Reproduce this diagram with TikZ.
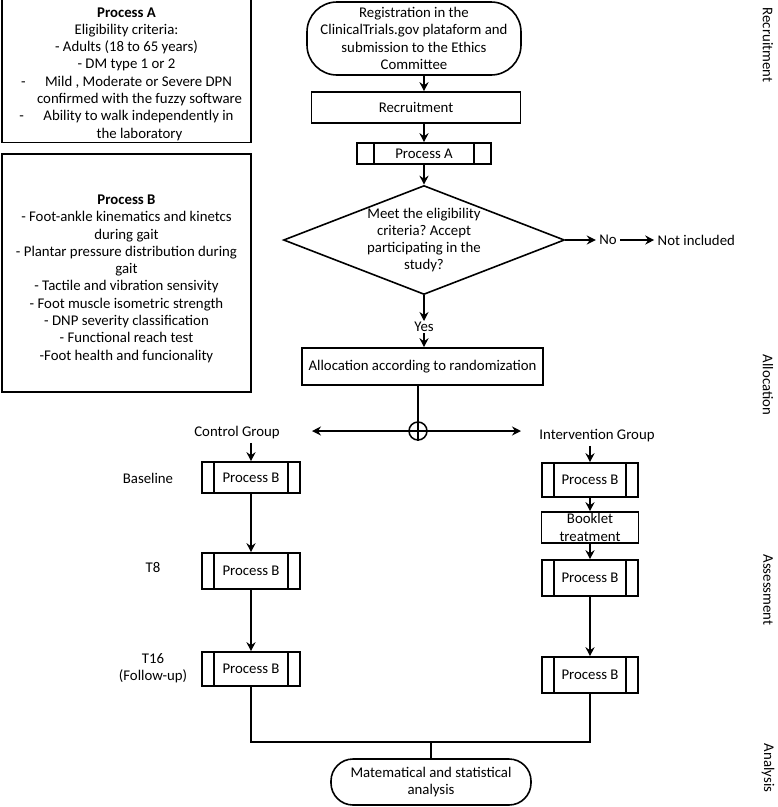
\documentclass[tikz,border=0pt]{standalone}
\usepackage{fontspec}
\setmainfont{Carlito}
\usepackage{tikz}
\usetikzlibrary{positioning}
\usetikzlibrary{shapes.geometric}
\usetikzlibrary{arrows.meta}

\begin{document}
\frenchspacing
\begin{tikzpicture}[x=1pt, y=-1pt,
  font=\fontsize{14.8}{17.3}\selectfont,
  box/.style={draw, line width=1.6pt, align=center, inner sep=2pt},
  term/.style={box, rounded corners=#1},
  procinset/.store in=\pinset, procinset=12pt,
  procbox/.style={box, path picture={
    \draw[line width=1.6pt] ([xshift=\pinset]path picture bounding box.north west) -- ([xshift=\pinset]path picture bounding box.south west)
      ([xshift=-\pinset]path picture bounding box.north east) -- ([xshift=-\pinset]path picture bounding box.south east);}},
  arr/.style={-{Stealth[length=9pt,width=9pt,inset=3pt]}, line width=1.5pt},
  link/.style={line width=1.5pt},
  sidelabel/.style={rotate=-90}
]
  \useasboundingbox (0,0) rectangle (778,807);

  % left descriptions
  \node[box, minimum width=249pt, minimum height=137pt] (critA) at (126.5,70.5)
    {\rule{0pt}{16.5pt}\textbf{Process A}\\ Eligibility criteria:\\ - Adults (18 to 65 years)\\ - DM type 1 or 2\\
     \makebox[24pt][l]{-}Mild , Moderate or Severe DPN\\ \hspace*{26pt}confirmed with the fuzzy software\\
     \makebox[24pt][l]{-}Ability to walk independently in\\ \hspace*{26pt}the laboratory};
  \node[box, minimum width=249pt, minimum height=238pt] (critB) at (126.5,273)
    {\rule{0pt}{21pt}\textbf{Process B}\\ - Foot-ankle kinematics and kinetcs\\ during gait\\ - Plantar pressure distribution during\\ gait\\
     - Tactile and vibration sensivity\\ - Foot muscle isometric strength\\ - DNP severity classification\\
     - Functional reach test\\ -Foot health and funcionality};

  % main flow
  \node[term=30pt, minimum width=214pt, minimum height=73pt] (reg) at (414,38.5)
    {Registration in the\\ ClinicalTrials.gov plataform and\\ submission to the Ethics\\ Committee};
  \node[box, minimum width=209pt, minimum height=31pt] (recruit) at (416,107.5) {Recruitment};
  \node[procbox, procinset=17pt, minimum width=134pt, minimum height=21pt, inner sep=0pt] (procA) at (424,153.5) {Process A};
  \node[box, diamond, aspect=2.58, inner sep=-3pt, minimum width=281pt, minimum height=109pt] (elig) at (424,240)
    {Meet the eligibility\\ criteria? Accept\\ participating in the\\ study?};
  \node (no) at (608,240) {No};
  \node[right=4pt of no, xshift=30pt] (notinc) {Not included};
  \node[inner sep=1pt] (yes) at (424,327) {Yes};
  \node[box, minimum width=241pt, minimum height=37pt] (alloc) at (422.5,366.5) {Allocation according to randomization};
  \node[draw, circle, line width=1.5pt, minimum size=18pt, inner sep=0pt] (split) at (418,431) {};
  \coordinate (lefttip) at (312,431);
  \coordinate (righttip) at (521,431);

  \path[arr] (reg.south -| procA) edge (recruit.north -| procA);
  \path[arr] (recruit.south -| procA) edge (procA.north);
  \path[arr] (procA.south) edge (elig.north);
  \path[arr] (elig.east) edge (no.west);
  \path[arr] (no.east) edge (notinc.west);
  \path[arr] (elig.south) edge (yes.north);
  \path[arr] (yes.south) edge (alloc.north -| yes);
  \draw[link] (alloc.south -| split) -- (split.north);
  \draw[link] (split.north) -- (split.south) (split.west) -- (split.east);
  \path[arr] (split.west) edge (lefttip);
  \path[arr] (split.east) edge (righttip);

  % control group
  \node (ctrl) at (237,433) {Control Group};
  \node[procbox, minimum width=98pt, minimum height=31pt] (cb1) at (251,477.5) {Process B};
  \node[procbox, minimum width=98pt, minimum height=36pt] (cb2) at (251,571) {Process B};
  \node[procbox, minimum width=98pt, minimum height=34pt] (cb3) at (251,669) {Process B};
  \node (base) at (148,478) {Baseline};
  \node (t8) at (153,567) {T8};
  \node[align=center] (t16) at (153,668) {T16\\ (Follow-up)};

  \path[arr] (cb1.north |- ctrl.south) edge (cb1.north);
  \path[arr] (cb1.south) edge (cb2.north);
  \path[arr] (cb2.south) edge (cb3.north);

  % intervention group
  \node (interv) at (597,436) {Intervention Group};
  \node[procbox, minimum width=96pt, minimum height=34pt] (ib1) at (590,480) {Process B};
  \node[box, minimum width=97pt, minimum height=31pt, inner sep=0pt] (booklet) at (590,527.5) {Booklet\\ treatment};
  \node[procbox, minimum width=96pt, minimum height=36pt] (ib2) at (590,578) {Process B};
  \node[procbox, minimum width=96pt, minimum height=36pt] (ib3) at (590,675) {Process B};

  \path[arr] (ib1.north |- interv.south) edge (ib1.north);
  \path[arr] (ib1.south) edge (booklet.north);
  \path[arr] (booklet.south) edge (ib2.north);
  \path[arr] (ib2.south) edge (ib3.north);

  % analysis
  \coordinate (join) at (431,742);
  \node[term=22pt, minimum width=200pt, minimum height=46pt] (analysis) at (431,782)
    {Matematical and statistical\\ analysis};
  \draw[link] (cb3.south) -- (cb3.south |- join) -- (ib3.south |- join) -- (ib3.south);
  \draw[link] (join) -- (analysis.north);

  % phases
  \node[sidelabel] (ph1) at (768,45) {Recruitment};
  \node[sidelabel] (ph2) at (768,385) {Allocation};
  \node[sidelabel] (ph3) at (768,590) {Assessment};
  \node[sidelabel] (ph4) at (768,768) {Analysis};
\end{tikzpicture}
\end{document}
